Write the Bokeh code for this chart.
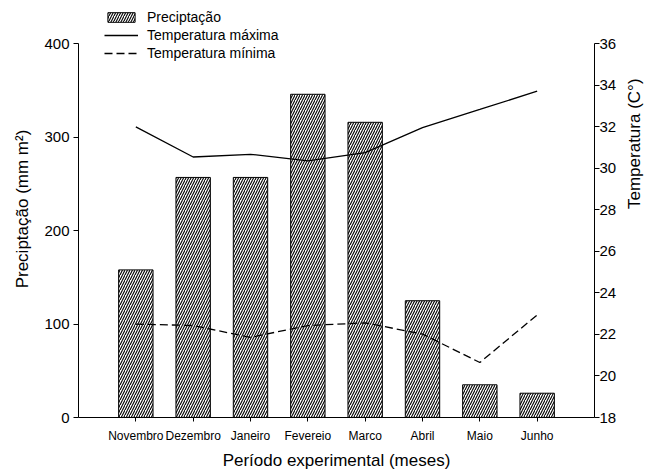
import math
from bokeh.plotting import figure
from bokeh.models import Range1d, LinearAxis, FixedTicker, Legend, LegendItem, ColumnDataSource
from bokeh.embed import file_html
from bokeh.resources import INLINE

meses = ["Novembro", "Dezembro", "Janeiro", "Fevereio", "Marco", "Abril", "Maio", "Junho"]
precipitacao = [158, 257, 257, 346, 316, 125, 35, 26]
temp_max = [32.0, 30.55, 30.68, 30.36, 30.76, 31.97, 32.84, 33.72]
temp_min = [22.5, 22.43, 21.86, 22.43, 22.56, 22.02, 20.65, 22.94]
left_ticks = [0, 100, 200, 300, 400]
right_ticks = [18, 20, 22, 24, 26, 28, 30, 32, 34, 36]

FONT = "Liberation Sans"
idx = list(range(len(meses)))
src = ColumnDataSource(dict(x=idx, prec=precipitacao, tmax=temp_max, tmin=temp_min))

p = figure(width=656, height=472, output_backend="svg", toolbar_location=None,
           x_range=Range1d(-1, len(meses)), y_range=Range1d(0, 446.4),
           min_border_left=78, min_border_right=62, min_border_top=0, min_border_bottom=55)
p.extra_y_ranges = {"temp": Range1d(18, 38.09)}
p.outline_line_color = None
p.xgrid.visible = False
p.ygrid.visible = False

bars = p.vbar(x="x", top="prec", width=0.6, bottom=0, source=src,
              fill_color="white", line_color="black", line_width=1,
              hatch_pattern="/", hatch_color="black", hatch_scale=5, hatch_weight=1.1)
lmax = p.line(x="x", y="tmax", source=src, y_range_name="temp", line_color="black", line_width=1.3)
lmin = p.line(x="x", y="tmin", source=src, y_range_name="temp", line_color="black", line_width=1.3,
              line_dash="8 4")

def style_axis(ax, fs):
    ax.axis_line_color = "black"
    ax.major_tick_line_color = "black"
    ax.minor_tick_line_color = None
    ax.major_tick_out = 5
    ax.major_tick_in = 0
    ax.major_label_text_font = FONT
    ax.major_label_text_font_size = fs
    ax.major_label_text_color = "black"
    ax.axis_label_text_font = FONT
    ax.axis_label_text_font_size = "17px"
    ax.axis_label_text_font_style = "normal"
    ax.axis_label_text_color = "black"

xa = p.xaxis[0]
style_axis(xa, "12px")
xa.ticker = FixedTicker(ticks=idx)
xa.major_label_overrides = {i: m for i, m in enumerate(meses)}
xa.axis_label = "Período experimental (meses)"
xa.major_tick_out = 4
xa.major_label_standoff = 7
xa.axis_label_standoff = 5

ya = p.yaxis[0]
style_axis(ya, "15px")
ya.ticker = FixedTicker(ticks=left_ticks)
ya.bounds = (0, 400)
ya.axis_label = "Preciptação (mm m²)"
ya.major_label_standoff = 4
ya.axis_label_standoff = 9

ra = LinearAxis(y_range_name="temp")
style_axis(ra, "15px")
ra.ticker = FixedTicker(ticks=right_ticks)
ra.bounds = (18, 36)
ra.axis_label = "Temperatura (C°)"
ra.axis_label_orientation = math.pi / 2
ra.major_label_standoff = 0
ra.axis_label_standoff = 15
p.add_layout(ra, "right")

legend = Legend(items=[LegendItem(label="Preciptação", renderers=[bars]),
                       LegendItem(label="Temperatura máxima", renderers=[lmax]),
                       LegendItem(label="Temperatura mínima", renderers=[lmin])],
                location=(26, 355), border_line_color=None, background_fill_alpha=0,
                padding=0, margin=0, spacing=0, glyph_width=34, glyph_height=12,
                label_height=18, label_standoff=9,
                label_text_font=FONT, label_text_font_size="14px", label_text_color="black")
p.add_layout(legend, "center")

open("out.html", "w").write(file_html(p, INLINE))
